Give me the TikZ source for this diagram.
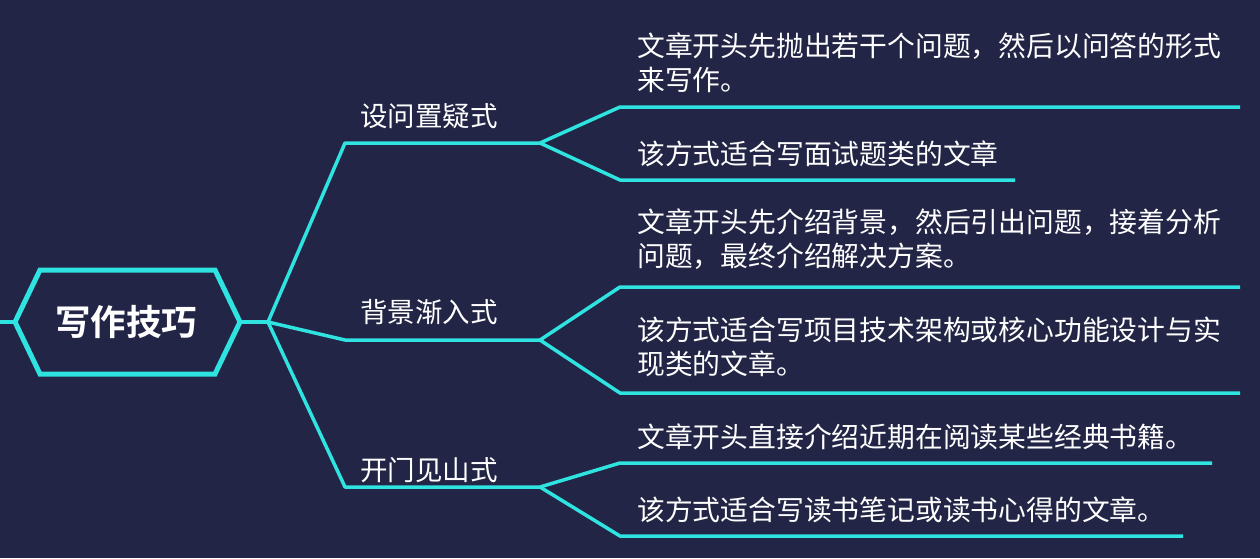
\documentclass[tikz,border=0pt]{standalone}
\usepackage{fontspec}
\setmainfont{Noto Sans CJK SC}
\newfontfamily\cjkb{Noto Sans CJK SC Bold}
\definecolor{bg}{HTML}{222545}
\definecolor{cy}{HTML}{2EE3E0}
\begin{document}
\begin{tikzpicture}[x=1pt,y=-1pt,
  ln/.style={draw=cy,line width=3.5pt,line join=round},
  lbl/.style={anchor=west,text=white,font=\fontsize{27.5}{27.5}\selectfont,inner sep=0pt},
  leaf/.style={anchor=west,text=white,font=\fontsize{27.8}{34}\selectfont,align=left,inner sep=0pt}]
\fill[bg] (0,0) rectangle (1260,558);
\useasboundingbox (0,0) rectangle (1260,558);
\coordinate (s) at (0,322);
\coordinate (rl) at (15,322);
\coordinate (rr) at (240,322);
\coordinate (h) at (268,322);
\draw[ln] (s) -- (rl);
\draw[draw=cy,line width=5pt,line join=miter] (15,322) -- (40,270) -- (215,270) -- (240,322) -- (215,374) -- (40,374) -- cycle;
\node[text=white,font=\cjkb\fontsize{35.5}{35.5}\selectfont] (root) at (126,322) {写作技巧};
\draw[ln] (rr) -- (h);
\coordinate (a1) at (345,143); \coordinate (a2) at (540,143);
\coordinate (b1) at (345,340); \coordinate (b2) at (540,340);
\coordinate (c1) at (345,487); \coordinate (c2) at (540,487);
\draw[ln] (h) -- (a1) -- (a2);
\draw[ln] (h) -- (b1) -- (b2);
\draw[ln] (h) -- (c1) -- (c2);
\node[lbl] (la) at (360,116) {设问置疑式};
\node[lbl] (lb) at (360,312) {背景渐入式};
\node[lbl] (lc) at (360,470) {开门见山式};
\draw[ln] (a2) -- (620,107) -- (1240,107);
\draw[ln] (a2) -- (620,180) -- (1015,180);
\draw[ln] (b2) -- (620,287) -- (1240,287);
\draw[ln] (b2) -- (620,393) -- (1240,393);
\draw[ln] (c2) -- (620,463) -- (1212,463);
\draw[ln] (c2) -- (620,536) -- (1183,536);
\node[leaf] (t1) at (637,63) {文章开头先抛出若干个问题，然后以问答的形式\\来写作。};
\node[leaf] (t2) at (637,154) {该方式适合写面试题类的文章};
\node[leaf] (t3) at (637,239) {文章开头先介绍背景，然后引出问题，接着分析\\问题，最终介绍解决方案。};
\node[leaf] (t4) at (637,347) {该方式适合写项目技术架构或核心功能设计与实\\现类的文章。};
\node[leaf] (t5) at (637,437) {文章开头直接介绍近期在阅读某些经典书籍。};
\node[leaf] (t6) at (637,510) {该方式适合写读书笔记或读书心得的文章。};
\end{tikzpicture}
\end{document}
